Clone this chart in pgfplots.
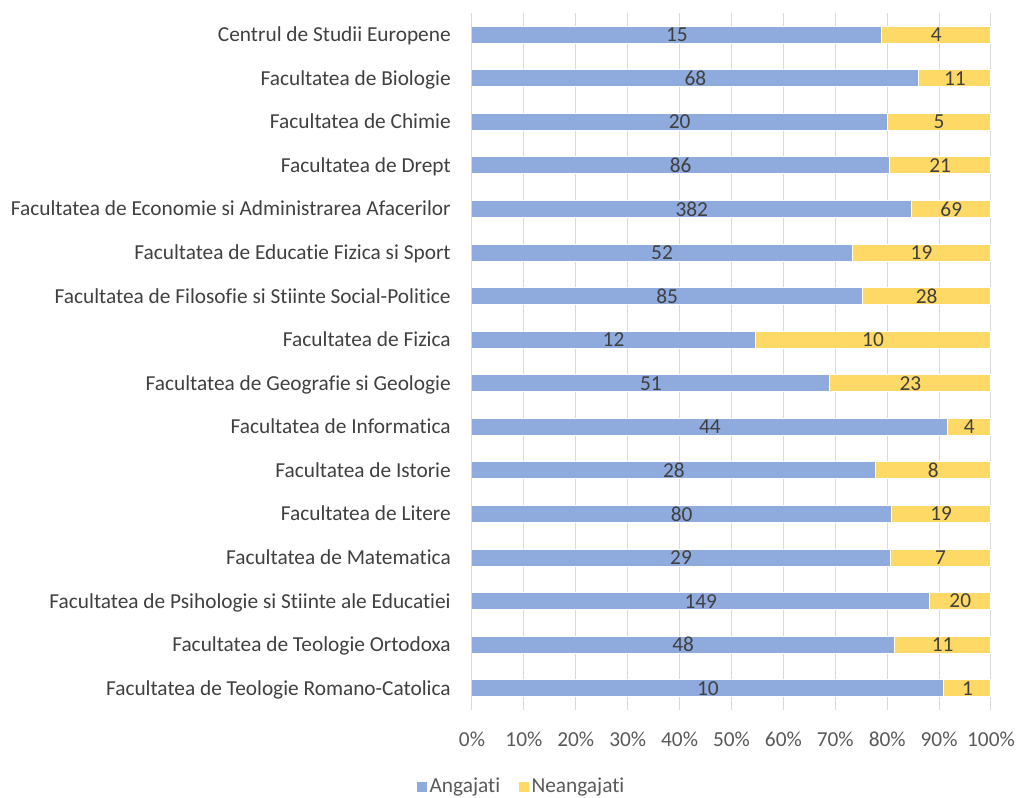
\documentclass[border=0pt]{standalone}
\usepackage{fontspec}
\setmainfont[Ligatures={NoCommon}]{Carlito}
\usepackage{pgfplots}
\usepackage{pgfplotstable}
\pgfplotsset{compat=1.18}
\definecolor{angblue}{HTML}{8FAADC}
\definecolor{neyellow}{HTML}{FFD966}
\definecolor{txt}{HTML}{404040}
\definecolor{tickc}{HTML}{595959}
\definecolor{gridc}{HTML}{D9D9D9}
\pgfplotstableread{
idx a n
0 15 4
1 68 11
2 20 5
3 86 21
4 382 69
5 52 19
6 85 28
7 12 10
8 51 23
9 44 4
10 28 8
11 80 19
12 29 7
13 149 20
14 48 11
15 10 1
}\data
\pgfplotsset{sqlegend/.style={legend image code/.code={\fill[##1,draw=none] (0pt,-3.75pt) rectangle (7.5pt,3.75pt);}}}
\newcommand{\fs}{\fontsize{16}{19}\selectfont}
\begin{document}
\fs
\begin{tikzpicture}
\useasboundingbox (-354pt,-66pt) rectangle (408.75pt,532.5pt);
\begin{axis}[
 at={(0,0)}, anchor=south west,
 scale only axis, width=389.25pt, height=522.75pt,
 xbar stacked, bar width=12.75pt,
 xmin=0, xmax=100, ymin=-0.5, ymax=15.5, y dir=reverse,
 xtick={0,10,...,100},
 xticklabels={0\%,10\%,20\%,30\%,40\%,50\%,60\%,70\%,80\%,90\%,100\%},
 ytick={0,...,15},
 yticklabels={Centrul de Studii Europene,Facultatea de Biologie,Facultatea de Chimie,Facultatea de Drept,Facultatea de Economie si Administrarea Afacerilor,Facultatea de Educatie Fizica si Sport,Facultatea de Filosofie si Stiinte Social-Politice,Facultatea de Fizica,Facultatea de Geografie si Geologie,Facultatea de Informatica,Facultatea de Istorie,Facultatea de Litere,Facultatea de Matematica,Facultatea de Psihologie si Stiinte ale Educatiei,Facultatea de Teologie Ortodoxa,Facultatea de Teologie Romano-Catolica},
 xmajorgrids, ymajorgrids=false,
 grid style={gridc, line width=0.75pt},
 axis line style={draw=none},
 major tick length=0pt, tick style={draw=none},
 xticklabel style={font=\fs, text=tickc, anchor=base, inner sep=0pt, yshift=-27.4pt},
 yticklabel style={font=\fs, text=txt, anchor=base east, inner sep=0pt, xshift=-15.75pt, yshift=-5.2pt},
 point meta=explicit,
 nodes near coords={\pgfmathprintnumber[assume math mode=true]{\pgfplotspointmeta}},
 every node near coord/.append style={font=\fs, text=txt},
 legend style={at={(0.0963,-0.1105)}, anchor=center, draw=none, fill=none, legend columns=2, font=\fs, text=tickc,
   /tikz/every even column/.append style={column sep=12pt}},
]
\addplot[fill=angblue, draw=white, line width=0.75pt, sqlegend] table[x expr={100*\thisrow{a}/(\thisrow{a}+\thisrow{n})}, y=idx, meta=a] {\data};
\addplot[fill=neyellow, draw=white, line width=0.75pt, sqlegend] table[x expr={100*\thisrow{n}/(\thisrow{a}+\thisrow{n})}, y=idx, meta=n] {\data};
\legend{Angajati,Neangajati}
\end{axis}
\end{tikzpicture}
\end{document}
